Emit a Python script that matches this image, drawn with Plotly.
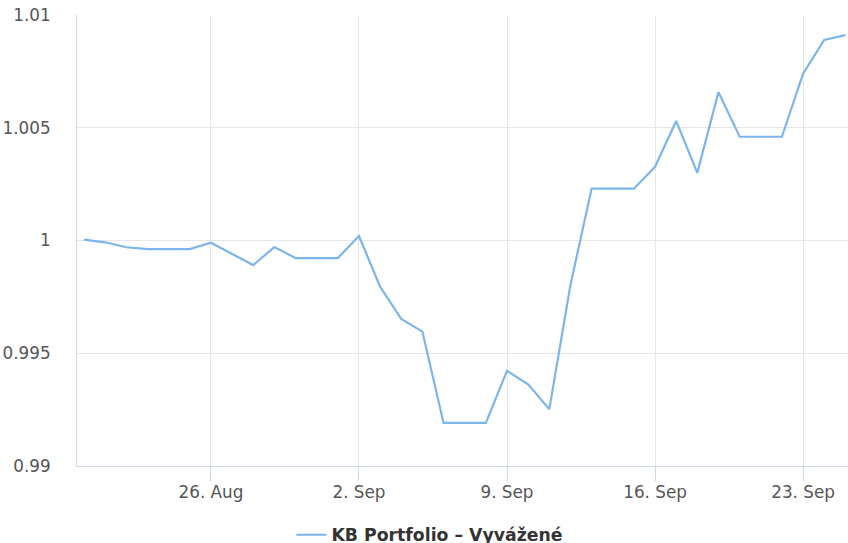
import plotly.graph_objects as go
import pandas as pd

dates = pd.date_range("2024-08-20", "2024-09-25", freq="D").strftime("%Y-%m-%d").tolist()
values = [
    1.00004, 0.99992, 0.9997, 0.99962, 0.99962, 0.99962, 0.9999, 0.99941, 0.99891,
    0.99971, 0.99922, 0.99922, 0.99922, 1.0002, 0.99795, 0.99652, 0.99596,
    0.99191, 0.99191, 0.99191, 0.99422, 0.99362, 0.99252, 0.99802,
    1.0023, 1.0023, 1.0023, 1.00327, 1.0053, 1.003, 1.00658,
    1.0046, 1.0046, 1.0046, 1.0074, 1.00889, 1.00911,
]
series_name = "KB Portfolio – Vyvážené"
y_ticks = [0.99, 0.995, 1.0, 1.005, 1.01]
y_tick_labels = ["0.99", "0.995", "1", "1.005", "1.01"]
x_ticks = ["2024-08-26", "2024-09-02", "2024-09-09", "2024-09-16", "2024-09-23"]
x_tick_labels = ["26. Aug", "2. Sep", "9. Sep", "16. Sep", "23. Sep"]

font = "DejaVu Sans, Verdana, sans-serif"
fig = go.Figure()
fig.add_trace(go.Scatter(
    x=dates, y=values, mode="lines", name=series_name,
    line=dict(color="#7cb5ec", width=2.2),
    showlegend=True,
))
fig.update_layout(
    width=848, height=543,
    margin=dict(l=77, r=0, t=15, b=77, autoexpand=False),
    paper_bgcolor="white", plot_bgcolor="white",
    font=dict(family=font, size=16.8, color="#555555"),
    showlegend=True,
    legend=dict(orientation="h", xref="container", yref="container",
                x=0.507, y=8 / 543, xanchor="center", yanchor="middle",
                font=dict(family=font, size=17.3, color="#333333", weight="bold"),
                itemwidth=30),
    xaxis=dict(
        type="date",
        range=["2024-08-19 16:00", "2024-09-25 03:00"],
        tickvals=x_ticks, ticktext=x_tick_labels,
        showgrid=True, gridcolor="#e6e6e6", gridwidth=1,
        showline=True, linecolor="#ccd6eb", linewidth=1,
        ticks="outside", ticklen=14, tickcolor="#ccd6eb",
        ticklabelstandoff=-3,
        tickfont=dict(size=16.8, color="#555555"),
        zeroline=False, automargin=False,
    ),
    yaxis=dict(
        range=[0.99, 1.01],
        tickvals=y_ticks, ticktext=y_tick_labels,
        showgrid=True, gridcolor="#e6e6e6", gridwidth=1,
        showline=True, linecolor="#ccd6eb", linewidth=1,
        ticks="", ticklabelstandoff=22, ticklabeloverflow="allow",
        tickfont=dict(size=16.8, color="#555555"),
        zeroline=False, automargin=False,
    ),
)
fig.write_html("out.html", config={"displayModeBar": False},
               post_script="document.body.style.margin='0';document.body.style.overflow='hidden';")
